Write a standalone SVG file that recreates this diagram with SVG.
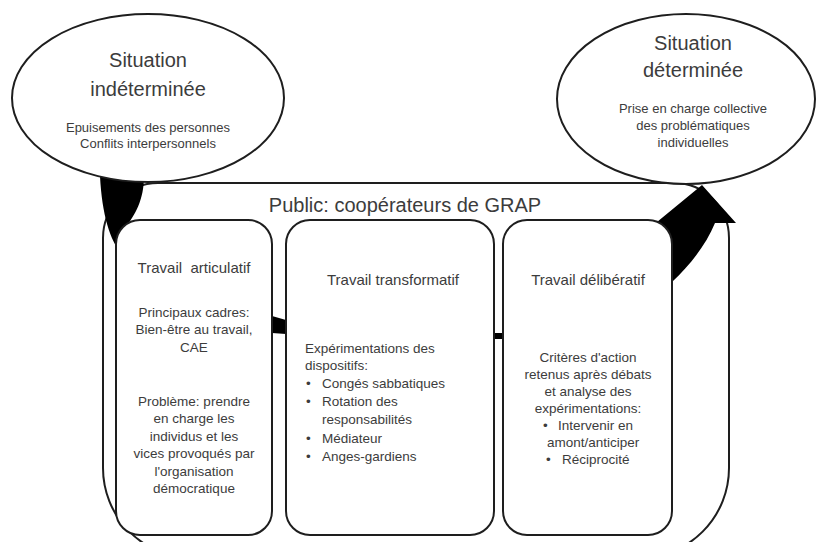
<svg xmlns="http://www.w3.org/2000/svg" width="818" height="542" viewBox="0 0 818 542">
<style>
.shape{fill:#fff;stroke:#1e1e1e;stroke-width:2}
text{font-family:"Liberation Sans",Arial,sans-serif;fill:#3c3c3c}
.big{font-size:20px;text-anchor:middle}
.small{font-size:13px;text-anchor:middle}
.title{font-size:15px;text-anchor:middle}
.body{font-size:13.5px;text-anchor:middle}
.bl{font-size:13.5px}
</style>
<rect width="818" height="542" fill="#fff"/>
<g id="public">
<path class="shape" d="M158,183 L674,183 A55,55 0 0 1 729,238 L729,468 A90,90 0 0 1 639,558 L193,558 A90,90 0 0 1 103,468 L103,238 A55,55 0 0 1 158,183 Z"/>
<text x="405" y="212" class="big">Public: coopérateurs de GRAP</text>
</g>
<g id="connectors">
<path fill="#000" d="M100,176 L144,176 C144,200 135,215 125,228 L272,316 L286,320 L494,333 L503,333 L640,240 L650,226 L657,222 L702,185 L736,223 L715,223 C706,245 690,265 672,282 L503,339 L494,339 L286,334 L272,333 L122,255 C110,240 102,215 100,176 Z"/>
</g>
<g id="box1">
<rect class="shape" x="116" y="220" width="156" height="315" rx="24"/>
<text x="194" y="273" class="title" xml:space="preserve">Travail  articulatif</text>
<text x="194" y="317" class="body">Principaux cadres:</text>
<text x="194" y="334" class="body">Bien-être au travail,</text>
<text x="194" y="352" class="body">CAE</text>
<text x="194" y="406" class="body">Problème: prendre</text>
<text x="194" y="423" class="body">en charge les</text>
<text x="194" y="441" class="body">individus et les</text>
<text x="194" y="458" class="body">vices provoqués par</text>
<text x="194" y="476" class="body">l'organisation</text>
<text x="194" y="493" class="body">démocratique</text>
</g>
<g id="box2">
<rect class="shape" x="286" y="220" width="208" height="315" rx="24"/>
<text x="393" y="285" class="title">Travail transformatif</text>
<text x="305" y="353" class="bl">Expérimentations des</text>
<text x="305" y="370" class="bl">dispositifs:</text>
<text x="306" y="388" class="bl">•</text><text x="322" y="388" class="bl">Congés sabbatiques</text>
<text x="306" y="406" class="bl">•</text><text x="322" y="406" class="bl">Rotation des</text>
<text x="322" y="424" class="bl">responsabilités</text>
<text x="306" y="443" class="bl">•</text><text x="322" y="443" class="bl">Médiateur</text>
<text x="306" y="461" class="bl">•</text><text x="322" y="461" class="bl">Anges-gardiens</text>
</g>
<g id="box3">
<rect class="shape" x="503" y="220" width="169" height="315" rx="24"/>
<text x="588" y="285" class="title">Travail délibératif</text>
<text x="588" y="362" class="body">Critères d'action</text>
<text x="588" y="379" class="body">retenus après débats</text>
<text x="588" y="396" class="body">et analyse des</text>
<text x="588" y="413" class="body">expérimentations:</text>
<text x="543" y="430" class="bl">•</text><text x="558" y="430" class="bl">Intervenir en</text>
<text x="547" y="447" class="bl">amont/anticiper</text>
<text x="546" y="464" class="bl">•</text><text x="562" y="464" class="bl">Réciprocité</text>
</g>
<g id="situation-indeterminee">
<ellipse class="shape" cx="148" cy="98" rx="136" ry="84"/>
<text x="148" y="67" class="big">Situation</text>
<text x="148" y="96" class="big">indéterminée</text>
<text x="148" y="132" class="small">Epuisements des personnes</text>
<text x="148" y="148" class="small">Conflits interpersonnels</text>
</g>
<g id="situation-determinee">
<ellipse class="shape" cx="686" cy="99" rx="129" ry="85"/>
<text x="693" y="50" class="big">Situation</text>
<text x="693" y="77" class="big">déterminée</text>
<text x="693" y="113" class="small">Prise en charge collective</text>
<text x="693" y="130" class="small">des problématiques</text>
<text x="693" y="147" class="small">individuelles</text>
</g>
</svg>
